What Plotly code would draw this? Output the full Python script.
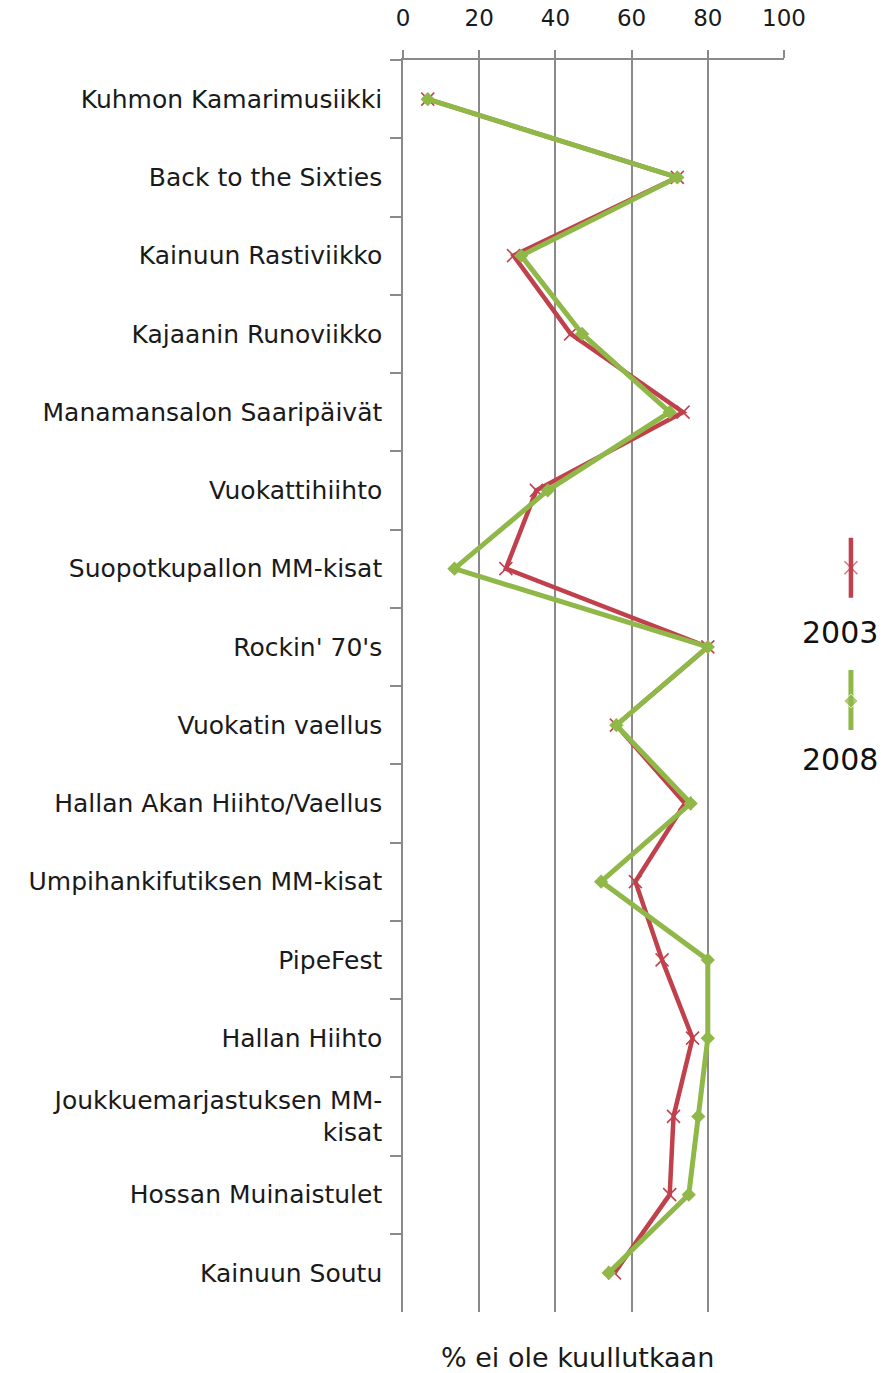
import plotly.graph_objects as go

# festival names, top to bottom
events = ['Kuhmon Kamarimusiikki', 'Back to the Sixties', 'Kainuun Rastiviikko',
          'Kajaanin Runoviikko', 'Manamansalon Saaripäivät', 'Vuokattihiihto',
          'Suopotkupallon MM-kisat', "Rockin' 70's", 'Vuokatin vaellus',
          'Hallan Akan Hiihto/Vaellus', 'Umpihankifutiksen MM-kisat', 'PipeFest',
          'Hallan Hiihto', 'Joukkuemarjastuksen MM-<br>kisat', 'Hossan Muinaistulet',
          'Kainuun Soutu']

# % ei ole kuullutkaan
y2003 = [6.5, 72, 29, 44, 73.5, 35, 27, 80, 56, 74, 61, 68, 76, 71, 70, 55.5]
y2008 = [6.5, 72, 31, 47, 70, 38, 13.5, 80, 56, 75.5, 52, 80, 80, 77.5, 75, 54]

years = ['2003', '2008']
red = '#C0404C'
green = '#8FB848'

font_main = 'DejaVu Sans'

fig = go.Figure()

fig.add_trace(go.Scatter(x=y2003, y=events, mode='lines+markers', name='2003',
                         line=dict(color=red, width=4.5),
                         marker=dict(symbol='x-thin', size=13, line=dict(width=1.5, color=red)),
                         showlegend=False))
fig.add_trace(go.Scatter(x=y2008, y=events, mode='lines+markers', name='2008',
                         line=dict(color=green, width=5),
                         marker=dict(symbol='diamond', size=11, color=green),
                         showlegend=False))

# hand made legend: vertical line glyph with the year under it
fig.add_trace(go.Scatter(x=[0.5, 0.5, 0.5], y=[0.99, 0.84, 0.69], mode='lines+markers',
                         line=dict(color=red, width=4.5),
                         marker=dict(symbol='x-thin', size=[0, 13, 0], line=dict(width=1.5, color=red)),
                         xaxis='x2', yaxis='y2', showlegend=False, hoverinfo='skip'))
fig.add_trace(go.Scatter(x=[0.5, 0.5, 0.5], y=[0.33, 0.175, 0.03], mode='lines+markers',
                         line=dict(color=green, width=5),
                         marker=dict(symbol='diamond', size=[0, 11, 0], color=green),
                         xaxis='x2', yaxis='y2', showlegend=False, hoverinfo='skip'))

fig.update_layout(
    width=886, height=1373,
    margin=dict(l=403, r=10, t=60, b=61),
    plot_bgcolor='white', paper_bgcolor='white',
    font=dict(family=font_main, size=25, color='#1a1a1a'),
    xaxis=dict(domain=[0, 0.8055], range=[0, 100], dtick=20, side='top', automargin=False,
               showgrid=True, gridcolor='#8a8a8a', gridwidth=1.5,
               showline=True, linecolor='#8a8a8a', linewidth=1.5,
               ticks='outside', ticklen=8, tickcolor='#8a8a8a', tickwidth=1.5,
               tickfont=dict(size=23), ticklabelstandoff=15, zeroline=False, fixedrange=True),
    yaxis=dict(autorange=False, range=[15.5, -0.5], categoryorder='array', categoryarray=events,
               automargin=False,
               showline=True, linecolor='#8a8a8a', linewidth=1.5,
               ticks='outside', tickson='boundaries', ticklen=11, tickcolor='#8a8a8a', tickwidth=1.5,
               showgrid=False, zeroline=False, tickfont=dict(size=25), ticklabelstandoff=14),
    xaxis2=dict(domain=[0.925, 0.969], range=[0, 1], visible=False, anchor='y2'),
    yaxis2=dict(domain=[0.46, 0.62], range=[0, 1], visible=False, anchor='x2'),
    annotations=[
        dict(text='% ei ole kuullutkaan', xref='paper', yref='paper', x=0.368, y=-0.0367,
             xanchor='center', yanchor='middle', showarrow=False, font=dict(size=27)),
        dict(text=years[0], xref='paper', yref='paper', x=0.924, y=0.543,
             xanchor='center', yanchor='middle', showarrow=False, font=dict(size=30, color='#111')),
        dict(text=years[1], xref='paper', yref='paper', x=0.924, y=0.441,
             xanchor='center', yanchor='middle', showarrow=False, font=dict(size=30, color='#111')),
    ],
)

# drop the page margin so the figure sits at the window's corner
fig.write_html("out.html", config={'displayModeBar': False},
               post_script="document.body.style.margin='0';document.body.style.overflow='hidden';")
